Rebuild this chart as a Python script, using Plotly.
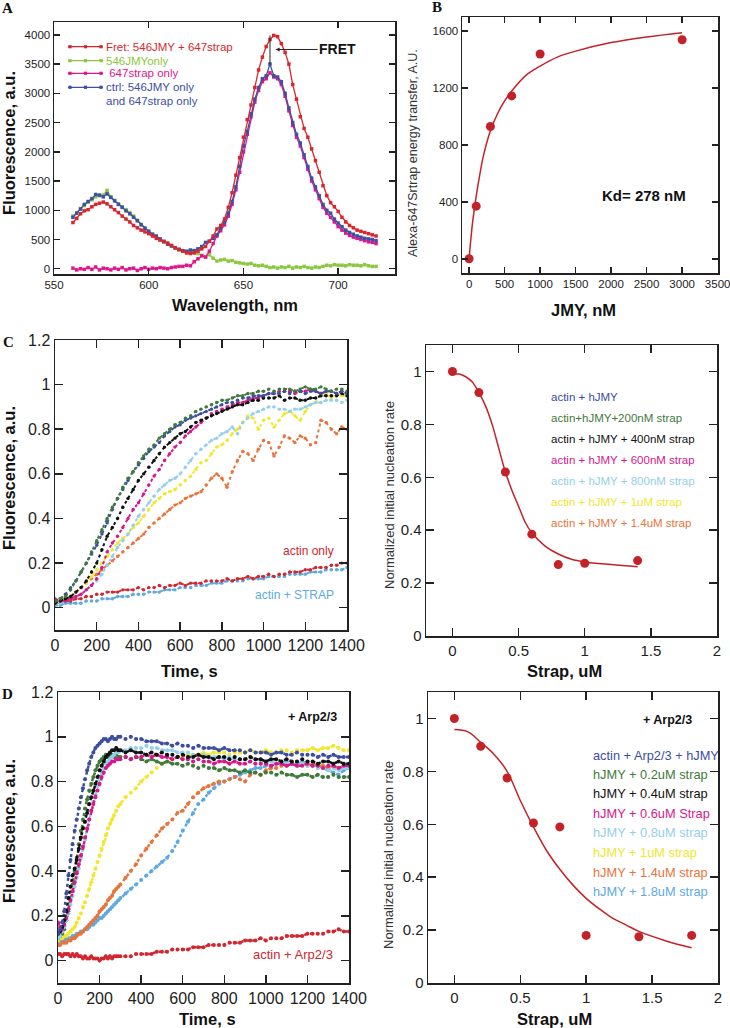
import plotly.graph_objects as go

W, H = 730, 1028
def fx(px): return px / W
def fy(py): return 1 - py / H

SANS = "Liberation Sans, Arial, sans-serif"
SERIF = "Liberation Serif, Times New Roman, serif"

# ---------------- Panel A: emission spectra ----------------
wavelength = list(range(560, 721, 2))
fret_546jmy_647strap = [
    790, 860, 940, 990, 1010, 1060, 1100, 1120, 1140, 1110,
    1060, 1010, 960, 900, 850, 800, 740, 700, 660, 630,
    600, 560, 520, 490, 460, 440, 400, 360, 330, 300,
    270, 260, 270, 300, 340, 380, 470, 560, 680, 740,
    850, 1050, 1300, 1600, 1900, 2250, 2550, 2800, 3100, 3400,
    3620, 3800, 3920, 3990, 3970, 3850, 3700, 3500, 3150, 2900,
    2600, 2400, 2250, 2050, 1850, 1650, 1420, 1250, 1130, 1060,
    980, 880, 800, 740, 700, 660, 640, 620, 600, 580,
    560]
jmy546_only = [
    900, 960, 1030, 1080, 1140, 1180, 1230, 1250, 1260, 1340,
    1230, 1170, 1110, 1060, 1010, 960, 900, 830, 760, 700,
    640, 590, 550, 500, 460, 420, 390, 350, 320, 300,
    290, 270, 280, 260, 230, 200, 240, 180, 130, 150,
    160, 130, 140, 110, 100, 90, 80, 90, 60, 50,
    60, 40, 20, 30, 10, 30, 20, 40, 10, 30,
    20, 40, 20, 10, 30, 20, 40, 60, 50, 70,
    60, 60, 50, 70, 60, 60, 50, 70, 50, 40,
    40]
strap647_only = [
    10, -20, 0, -10, 20, -10, 30, -20, 10, 0,
    -20, 10, -10, 20, -20, 0, 10, -30, 0, 20,
    -10, 10, 0, 20, 10, 0, 20, 30, 40, 40,
    60, 50, 120, 170, 220, 200, 300, 430, 560, 650,
    750, 900, 1100, 1350, 1650, 2000, 2300, 2600, 2850, 3050,
    3200, 3250, 3350, 3280, 3250, 3150, 2950, 2700, 2450, 2250,
    2100, 1900, 1700, 1500, 1350, 1200, 1050, 950, 880, 800,
    720, 660, 610, 570, 540, 520, 500, 480, 460, 450,
    430]
ctrl_sum = [
    880, 950, 1020, 1100, 1150, 1200, 1270, 1260, 1230, 1280,
    1220, 1160, 1100, 1050, 990, 940, 880, 820, 750, 690,
    640, 590, 560, 510, 470, 420, 390, 360, 330, 310,
    300, 320, 310, 340, 380, 450, 470, 520, 580, 700,
    800, 950, 1150, 1400, 1750, 2100, 2350, 2650, 2900, 3100,
    3250, 3300, 3500, 3300, 3280, 3200, 3000, 2750, 2500, 2300,
    2150, 1950, 1750, 1550, 1400, 1250, 1100, 1000, 950, 850,
    780, 720, 660, 620, 590, 560, 540, 520, 510, 500,
    480]
legend_a = ["Fret: 546JMY + 647strap", "546JMYonly", "\u00a0647strap only",
            "ctrl: 546JMY only", "and 647strap only"]

# ---------------- Panel B: binding ----------------
jmy_nM = [0, 100, 300, 600, 1000, 3000]
energy_transfer = [0, 370, 930, 1145, 1440, 1540]
fitB_x = [0, 25, 50, 100, 150, 200, 300, 400, 500, 600, 800, 1000, 1250, 1500, 2000, 2500, 3000]
fitB_y = [0, 140, 260, 440, 590, 720, 900, 1020, 1110, 1180, 1290, 1355, 1420, 1460, 1520, 1560, 1590]

# ---------------- Panel C: kinetics (no Arp2/3) ----------------
time_c = list(range(0, 1401, 25))
c_hjmy = [0.03, 0.04, 0.06, 0.09, 0.12, 0.16, 0.20, 0.24, 0.28, 0.33,
          0.38, 0.44, 0.49, 0.53, 0.57, 0.61, 0.64, 0.67, 0.70, 0.72,
          0.74, 0.77, 0.79, 0.81, 0.82, 0.84, 0.85, 0.86, 0.87, 0.88,
          0.89, 0.90, 0.91, 0.92, 0.92, 0.93, 0.94, 0.94, 0.95, 0.95,
          0.95, 0.96, 0.96, 0.96, 0.97, 0.96, 0.97, 0.97, 0.96, 0.97,
          0.97, 0.96, 0.97, 0.97, 0.96, 0.97, 0.96]
c_200nM = [0.03, 0.04, 0.05, 0.08, 0.12, 0.16, 0.20, 0.25, 0.30, 0.35,
           0.40, 0.45, 0.49, 0.54, 0.58, 0.61, 0.65, 0.68, 0.71, 0.73,
           0.76, 0.78, 0.80, 0.82, 0.83, 0.85, 0.86, 0.88, 0.89, 0.90,
           0.91, 0.92, 0.93, 0.93, 0.94, 0.95, 0.95, 0.96, 0.96, 0.97,
           0.97, 0.98, 0.97, 0.98, 0.98, 0.98, 0.97, 0.98, 0.99, 0.98,
           0.98, 0.99, 0.98, 0.97, 0.98, 0.98, 0.97]
c_400nM = [0.02, 0.03, 0.04, 0.05, 0.07, 0.09, 0.12, 0.16, 0.20, 0.26,
           0.32, 0.36, 0.40, 0.45, 0.49, 0.53, 0.57, 0.60, 0.63, 0.66,
           0.69, 0.72, 0.74, 0.76, 0.78, 0.79, 0.81, 0.83, 0.84, 0.85,
           0.86, 0.87, 0.88, 0.89, 0.90, 0.91, 0.91, 0.92, 0.93, 0.93,
           0.94, 0.94, 0.94, 0.95, 0.93, 0.94, 0.94, 0.93, 0.93, 0.94,
           0.94, 0.95, 0.95, 0.95, 0.95, 0.96, 0.95]
c_600nM = [0.04, 0.03, 0.03, 0.04, 0.05, 0.06, 0.08, 0.10, 0.13, 0.18,
           0.25, 0.29, 0.32, 0.36, 0.40, 0.44, 0.47, 0.51, 0.55, 0.59,
           0.62, 0.66, 0.69, 0.72, 0.74, 0.77, 0.79, 0.81, 0.83, 0.85,
           0.87, 0.88, 0.89, 0.90, 0.91, 0.92, 0.92, 0.93, 0.94, 0.94,
           0.95, 0.96, 0.96, 0.97, 0.97, 0.97, 0.96, 0.97, 0.97, 0.98,
           0.97, 0.96, 0.97, 0.97, 0.96, 0.97, 0.96]
c_800nM = [0.02, 0.02, 0.03, 0.04, 0.05, 0.06, 0.08, 0.10, 0.12, 0.15,
           0.19, 0.23, 0.27, 0.30, 0.33, 0.37, 0.41, 0.44, 0.47, 0.50,
           0.53, 0.55, 0.57, 0.58, 0.60, 0.63, 0.66, 0.69, 0.71, 0.73,
           0.75, 0.76, 0.78, 0.79, 0.81, 0.78, 0.83, 0.85, 0.87, 0.88,
           0.89, 0.90, 0.90, 0.89, 0.89, 0.88, 0.89, 0.89, 0.90, 0.91,
           0.92, 0.92, 0.93, 0.93, 0.93, 0.92, 0.93]
c_1uM = [0.02, 0.03, 0.04, 0.05, 0.07, 0.09, 0.11, 0.14, 0.17, 0.20,
         0.23, 0.26, 0.29, 0.31, 0.33, 0.36, 0.38, 0.41, 0.44, 0.47,
         0.49, 0.51, 0.52, 0.53, 0.55, 0.57, 0.59, 0.62, 0.65, 0.66,
         0.69, 0.72, 0.73, 0.75, 0.78, 0.80, 0.83, 0.86, 0.85, 0.80,
         0.84, 0.85, 0.81, 0.84, 0.87, 0.88, 0.86, 0.84, 0.88, 0.91,
         0.92, 0.96, 0.96, 0.94, 0.96, 0.95, 0.95]
c_1p4uM = [0.03, 0.03, 0.04, 0.05, 0.07, 0.09, 0.11, 0.13, 0.15, 0.17,
           0.19, 0.21, 0.23, 0.25, 0.27, 0.29, 0.31, 0.33, 0.36, 0.38,
           0.40, 0.42, 0.44, 0.46, 0.47, 0.49, 0.50, 0.51, 0.52, 0.55,
           0.58, 0.60, 0.58, 0.54, 0.61, 0.66, 0.70, 0.69, 0.66, 0.71,
           0.75, 0.74, 0.68, 0.72, 0.77, 0.76, 0.74, 0.77, 0.76, 0.73,
           0.74, 0.84, 0.83, 0.80, 0.78, 0.81, 0.80]
c_actin_only = [0.02, 0.02, 0.03, 0.03, 0.04, 0.04, 0.05, 0.05, 0.06, 0.06,
                0.07, 0.07, 0.07, 0.08, 0.08, 0.08, 0.09, 0.08, 0.09, 0.09,
                0.10, 0.09, 0.10, 0.10, 0.11, 0.10, 0.11, 0.11, 0.11, 0.12,
                0.12, 0.12, 0.12, 0.13, 0.12, 0.13, 0.13, 0.14, 0.13, 0.14,
                0.14, 0.15, 0.14, 0.15, 0.15, 0.16, 0.16, 0.16, 0.17, 0.17,
                0.18, 0.18, 0.18, 0.19, 0.19, 0.20, 0.20]
c_actin_strap = [0.01, 0.01, 0.02, 0.02, 0.02, 0.02, 0.03, 0.03, 0.03, 0.04,
                 0.04, 0.04, 0.05, 0.05, 0.05, 0.06, 0.06, 0.06, 0.07, 0.07,
                 0.07, 0.08, 0.08, 0.08, 0.09, 0.09, 0.09, 0.10, 0.10, 0.10,
                 0.11, 0.11, 0.11, 0.12, 0.12, 0.12, 0.12, 0.13, 0.13, 0.13,
                 0.13, 0.14, 0.14, 0.14, 0.14, 0.15, 0.15, 0.15, 0.15, 0.16,
                 0.16, 0.16, 0.17, 0.17, 0.17, 0.17, 0.18]
c_labels = ["actin + hJMY", "actin+hJMY+200nM strap", "actin + hJMY + 400nM strap",
            "actin + hJMY + 600nM strap", "actin + hJMY + 800nM strap",
            "actin + hJMY + 1uM strap", "actin + hJMY + 1.4uM strap"]

strap_c = [0, 0.2, 0.4, 0.6, 0.8, 1.0, 1.4]
rate_c = [1.0, 0.92, 0.62, 0.385, 0.27, 0.275, 0.285]
fitC_x = [0, 0.05, 0.1, 0.15, 0.2, 0.25, 0.3, 0.35, 0.4, 0.45, 0.5, 0.55, 0.6, 0.7, 0.8, 0.9, 1.0, 1.2, 1.4]
fitC_y = [0.99, 0.99, 0.98, 0.96, 0.92, 0.87, 0.80, 0.71, 0.62, 0.55, 0.49, 0.43, 0.39, 0.34, 0.31, 0.29, 0.28, 0.27, 0.262]

# ---------------- Panel D: kinetics (+ Arp2/3) ----------------
time_d = list(range(0, 300, 10)) + list(range(300, 1401, 25))
d_hjmy = [0.12, 0.14, 0.17, 0.22, 0.30, 0.38, 0.45, 0.52, 0.58, 0.63,
          0.68, 0.73, 0.77, 0.81, 0.85, 0.88, 0.91, 0.93, 0.95, 0.96,
          0.97, 0.98, 0.99, 0.99, 0.98, 0.99, 1.00, 0.99, 0.99, 1.00] + [
          1.00, 0.99, 1.00, 0.99, 0.99, 0.98, 0.98, 0.98, 0.97, 0.97,
          0.96, 0.97, 0.96, 0.96, 0.95, 0.96, 0.95, 0.95, 0.95, 0.94,
          0.95, 0.94, 0.94, 0.94, 0.93, 0.94, 0.93, 0.93, 0.93, 0.92,
          0.93, 0.93, 0.92, 0.92, 0.93, 0.92, 0.92, 0.92, 0.91, 0.92,
          0.91, 0.92, 0.91, 0.91, 0.91]
d_0p2uM = [0.10, 0.11, 0.12, 0.14, 0.18, 0.22, 0.28, 0.34, 0.40, 0.46,
           0.52, 0.58, 0.63, 0.68, 0.72, 0.76, 0.79, 0.82, 0.85, 0.87,
           0.89, 0.90, 0.91, 0.92, 0.91, 0.92, 0.92, 0.91, 0.92, 0.91] + [
           0.91, 0.91, 0.90, 0.91, 0.90, 0.89, 0.90, 0.89, 0.88, 0.89,
           0.88, 0.88, 0.87, 0.88, 0.87, 0.86, 0.87, 0.86, 0.86, 0.85,
           0.86, 0.85, 0.85, 0.84, 0.85, 0.84, 0.84, 0.83, 0.84, 0.84,
           0.83, 0.84, 0.83, 0.83, 0.82, 0.83, 0.83, 0.82, 0.83, 0.82,
           0.82, 0.83, 0.82, 0.82, 0.82]
d_0p4uM = [0.12, 0.13, 0.15, 0.18, 0.22, 0.28, 0.33, 0.38, 0.41, 0.45,
           0.50, 0.55, 0.59, 0.62, 0.66, 0.70, 0.73, 0.76, 0.79, 0.82,
           0.85, 0.87, 0.89, 0.91, 0.92, 0.93, 0.94, 0.94, 0.95, 0.94] + [
           0.94, 0.93, 0.94, 0.93, 0.93, 0.92, 0.93, 0.92, 0.93, 0.92,
           0.92, 0.91, 0.92, 0.91, 0.91, 0.92, 0.91, 0.91, 0.90, 0.91,
           0.91, 0.90, 0.91, 0.90, 0.90, 0.91, 0.90, 0.90, 0.89, 0.90,
           0.90, 0.89, 0.90, 0.89, 0.89, 0.90, 0.89, 0.89, 0.88, 0.89,
           0.89, 0.88, 0.89, 0.88, 0.88]
d_0p6uM = [0.17, 0.15, 0.14, 0.16, 0.19, 0.23, 0.27, 0.31, 0.35, 0.39,
           0.43, 0.47, 0.51, 0.55, 0.59, 0.63, 0.67, 0.70, 0.73, 0.76,
           0.79, 0.82, 0.84, 0.86, 0.87, 0.88, 0.89, 0.89, 0.90, 0.90] + [
           0.90, 0.91, 0.90, 0.91, 0.91, 0.92, 0.91, 0.92, 0.91, 0.91,
           0.90, 0.91, 0.90, 0.90, 0.89, 0.90, 0.89, 0.89, 0.88, 0.89,
           0.89, 0.88, 0.89, 0.88, 0.88, 0.89, 0.88, 0.88, 0.88, 0.87,
           0.88, 0.88, 0.87, 0.88, 0.87, 0.87, 0.88, 0.87, 0.87, 0.86,
           0.87, 0.87, 0.86, 0.87, 0.87]
d_0p8uM = [0.10, 0.11, 0.13, 0.15, 0.18, 0.21, 0.25, 0.29, 0.33, 0.37,
           0.41, 0.46, 0.50, 0.54, 0.59, 0.63, 0.67, 0.71, 0.74, 0.78,
           0.81, 0.84, 0.86, 0.88, 0.89, 0.90, 0.91, 0.92, 0.93, 0.93] + [
           0.94, 0.94, 0.95, 0.95, 0.95, 0.96, 0.95, 0.95, 0.94, 0.94,
           0.94, 0.93, 0.93, 0.93, 0.92, 0.92, 0.92, 0.91, 0.91, 0.91,
           0.90, 0.91, 0.90, 0.90, 0.90, 0.89, 0.90, 0.89, 0.89, 0.89,
           0.88, 0.89, 0.88, 0.88, 0.87, 0.88, 0.87, 0.87, 0.86, 0.86,
           0.85, 0.86, 0.85, 0.86, 0.86]
d_1uM = [0.09, 0.10, 0.10, 0.11, 0.11, 0.12, 0.13, 0.14, 0.15, 0.17,
         0.19, 0.21, 0.24, 0.26, 0.29, 0.32, 0.35, 0.38, 0.41, 0.44,
         0.47, 0.50, 0.53, 0.56, 0.59, 0.61, 0.63, 0.65, 0.67, 0.69] + [
         0.70, 0.73, 0.75, 0.77, 0.80, 0.82, 0.84, 0.86, 0.88, 0.89,
         0.90, 0.91, 0.91, 0.92, 0.92, 0.92, 0.93, 0.92, 0.93, 0.93,
         0.93, 0.92, 0.93, 0.93, 0.93, 0.94, 0.93, 0.93, 0.94, 0.93,
         0.93, 0.94, 0.94, 0.93, 0.94, 0.94, 0.94, 0.95, 0.94, 0.95,
         0.95, 0.96, 0.95, 0.94, 0.94]
d_1p4uM = [0.07, 0.07, 0.08, 0.08, 0.08, 0.09, 0.09, 0.10, 0.10, 0.11,
           0.12, 0.12, 0.13, 0.14, 0.15, 0.16, 0.17, 0.18, 0.19, 0.20,
           0.22, 0.23, 0.24, 0.25, 0.27, 0.28, 0.29, 0.31, 0.32, 0.33] + [
           0.34, 0.37, 0.40, 0.43, 0.47, 0.50, 0.53, 0.56, 0.59, 0.61,
           0.63, 0.66, 0.67, 0.70, 0.73, 0.75, 0.77, 0.78, 0.79, 0.80,
           0.80, 0.81, 0.82, 0.81, 0.80, 0.83, 0.84, 0.83, 0.85, 0.86,
           0.86, 0.87, 0.87, 0.88, 0.87, 0.88, 0.87, 0.88, 0.87, 0.87,
           0.86, 0.87, 0.86, 0.87, 0.87]
d_1p8uM = [0.08, 0.09, 0.09, 0.09, 0.10, 0.10, 0.10, 0.11, 0.11, 0.12,
           0.12, 0.13, 0.13, 0.14, 0.14, 0.15, 0.16, 0.16, 0.17, 0.18,
           0.19, 0.19, 0.20, 0.21, 0.22, 0.23, 0.24, 0.25, 0.26, 0.27] + [
           0.28, 0.30, 0.32, 0.34, 0.36, 0.38, 0.40, 0.42, 0.44, 0.46,
           0.49, 0.53, 0.58, 0.62, 0.66, 0.70, 0.72, 0.75, 0.77, 0.79,
           0.80, 0.81, 0.82, 0.83, 0.84, 0.85, 0.86, 0.86, 0.87, 0.87,
           0.88, 0.88, 0.89, 0.88, 0.88, 0.89, 0.88, 0.87, 0.87, 0.86,
           0.85, 0.84, 0.83, 0.85, 0.86]
d_actin_arp = [0.03, 0.03, 0.02, 0.03, 0.03, 0.03, 0.02, 0.03, 0.02, 0.03,
               0.02, 0.02, 0.01, 0.02, 0.01, 0.01, 0.02, 0.01, 0.01, 0.01,
               0.00, 0.01, 0.01, 0.02, 0.01, 0.02, 0.01, 0.02, 0.02, 0.02] + [
               0.02, 0.02, 0.02, 0.03, 0.03, 0.03, 0.03, 0.04, 0.04, 0.04,
               0.05, 0.05, 0.05, 0.05, 0.06, 0.06, 0.06, 0.07, 0.07, 0.07,
               0.07, 0.08, 0.08, 0.08, 0.09, 0.09, 0.09, 0.10, 0.09, 0.10,
               0.10, 0.10, 0.11, 0.11, 0.11, 0.11, 0.12, 0.12, 0.12, 0.12,
               0.13, 0.13, 0.14, 0.13, 0.13]
d_labels = ["actin + Arp2/3 + hJMY", "hJMY + 0.2uM strap", "hJMY + 0.4uM strap",
            "hJMY + 0.6uM Strap", "hJMY + 0.8uM strap", "hJMY + 1uM strap",
            "hJMY + 1.4uM strap", "hJMY + 1.8uM strap"]

strap_d = [0, 0.2, 0.4, 0.6, 0.8, 1.0, 1.4, 1.8]
rate_d = [1.0, 0.895, 0.775, 0.605, 0.59, 0.18, 0.175, 0.18]
fitD_x = [0, 0.1, 0.2, 0.3, 0.4, 0.5, 0.6, 0.7, 0.8, 0.9, 1.0, 1.1, 1.2, 1.3, 1.4, 1.6, 1.8]
fitD_y = [0.958, 0.95, 0.91, 0.865, 0.80, 0.69, 0.59, 0.50, 0.43, 0.37, 0.32, 0.28, 0.245, 0.22, 0.195, 0.16, 0.133]

# ---------------- colours ----------------
A_RED, A_GREEN, A_MAG, A_BLUE = "#d8262e", "#8dc641", "#e0168c", "#3d50a2"
K_BLUE, K_GREEN, K_BLACK, K_MAG = "#3b4ea0", "#3f7a3b", "#111111", "#d6188c"
K_SKY, K_YEL, K_ORA, K_RED, K_LTB = "#93d0ea", "#f2e630", "#e8743b", "#d22630", "#5eaadf"
FIT = "#c42229"

fig = go.Figure()

# Panel A traces
for ys, col in [(jmy546_only, A_GREEN), (strap647_only, A_MAG), (ctrl_sum, A_BLUE), (fret_546jmy_647strap, A_RED)]:
    fig.add_trace(go.Scatter(x=wavelength, y=ys, mode="lines+markers", xaxis="x", yaxis="y",
                             line=dict(color=col, width=1.3),
                             marker=dict(symbol="square", size=3.5, color=col), showlegend=False))

# Panel B
fig.add_trace(go.Scatter(x=fitB_x, y=fitB_y, mode="lines", line=dict(color=FIT, width=1.5, shape="spline"),
                         xaxis="x2", yaxis="y2", showlegend=False))
fig.add_trace(go.Scatter(x=jmy_nM, y=energy_transfer, mode="markers", marker=dict(color=FIT, size=9),
                         xaxis="x2", yaxis="y2", showlegend=False))

# Panel C kinetics
for ys, col in [(c_actin_strap, K_LTB), (c_actin_only, K_RED), (c_1p4uM, K_ORA), (c_1uM, K_YEL),
                (c_800nM, K_SKY), (c_600nM, K_MAG), (c_400nM, K_BLACK), (c_hjmy, K_BLUE), (c_200nM, K_GREEN)]:
    fig.add_trace(go.Scatter(x=time_c[:len(ys)], y=ys, mode="lines+markers", xaxis="x3", yaxis="y3",
                             line=dict(color=col, width=2, dash="dot"),
                             marker=dict(color=col, size=3.4), showlegend=False))

fig.add_trace(go.Scatter(x=fitC_x, y=fitC_y, mode="lines", line=dict(color=FIT, width=1.5, shape="spline"),
                         xaxis="x4", yaxis="y4", showlegend=False))
fig.add_trace(go.Scatter(x=strap_c, y=rate_c, mode="markers", marker=dict(color=FIT, size=9),
                         xaxis="x4", yaxis="y4", showlegend=False))

# Panel D kinetics
for ys, col in [(d_actin_arp, K_RED), (d_1p8uM, K_LTB), (d_1p4uM, K_ORA), (d_1uM, K_YEL), (d_0p2uM, K_GREEN),
                (d_0p8uM, K_SKY), (d_0p6uM, K_MAG), (d_0p4uM, K_BLACK), (d_hjmy, K_BLUE)]:
    fig.add_trace(go.Scatter(x=time_d[:len(ys)], y=ys, mode="lines+markers", xaxis="x5", yaxis="y5",
                             line=dict(color=col, width=2.5, dash="dot"),
                             marker=dict(color=col, size=4), showlegend=False))

fig.add_trace(go.Scatter(x=fitD_x, y=fitD_y, mode="lines", line=dict(color=FIT, width=1.5, shape="spline"),
                         xaxis="x6", yaxis="y6", showlegend=False))
fig.add_trace(go.Scatter(x=strap_d, y=rate_d, mode="markers", marker=dict(color=FIT, size=9),
                         xaxis="x6", yaxis="y6", showlegend=False))

# ---------------- axes ----------------
def ax(domain, rng, tickvals, size, ticklen, anchor):
    return dict(domain=domain, range=rng, tickvals=tickvals, anchor=anchor, automargin=False,
                showline=True, linecolor="#222", linewidth=1.5, mirror="ticks",
                ticks="inside", ticklen=ticklen, tickwidth=1.5, tickcolor="#222",
                showgrid=False, zeroline=False, ticklabeloverflow="allow",
                tickfont=dict(family=SANS, size=size, color="#222"))

lay = dict(
    width=W, height=H, margin=dict(l=0, r=0, t=0, b=0, pad=0, autoexpand=False),
    paper_bgcolor="white", plot_bgcolor="white", showlegend=False,
    xaxis=ax([fx(54), fx(395)], [550, 730], [550, 600, 650, 700], 11.5, 6, "y"),
    yaxis=ax([fy(274), fy(22)], [-90, 4220], list(range(0, 4001, 500)), 11.5, 6, "x"),
    xaxis2=ax([fx(462), fx(718)], [-100, 3505], list(range(0, 3501, 500)), 11.5, 6, "y2"),
    yaxis2=ax([fy(273), fy(17)], [-100, 1700], [0, 400, 800, 1200, 1600], 11.5, 6, "x2"),
    xaxis3=ax([fx(55), fx(347)], [0, 1400], list(range(0, 1401, 200)), 16, 8, "y3"),
    yaxis3=ax([fy(630), fy(340)], [-0.1, 1.2], [0, 0.2, 0.4, 0.6, 0.8, 1, 1.2], 16, 8, "x3"),
    xaxis4=ax([fx(426), fx(717)], [-0.2, 2], [0, 0.5, 1, 1.5, 2], 15, 8, "y4"),
    yaxis4=ax([fy(636), fy(345)], [0, 1.1], [0, 0.2, 0.4, 0.6, 0.8, 1], 15, 8, "x4"),
    xaxis5=ax([fx(58), fx(349)], [0, 1400], list(range(0, 1401, 200)), 16, 8, "y5"),
    yaxis5=ax([fy(983), fy(692)], [-0.1, 1.2], [0, 0.2, 0.4, 0.6, 0.8, 1, 1.2], 16, 8, "x5"),
    xaxis6=ax([fx(428), fx(718)], [-0.2, 2], [0, 0.5, 1, 1.5, 2], 15, 8, "y6"),
    yaxis6=ax([fy(983), fy(692)], [0, 1.1], [0, 0.2, 0.4, 0.6, 0.8, 1], 15, 8, "x6"),
)
fig.update_layout(**lay)

ann = []
def txt(text, x, y, size, color="#222", bold=False, family=SANS, angle=0, xanchor="center"):
    ann.append(dict(text=("<b>%s</b>" % text) if bold else text, x=fx(x), y=fy(y),
                    xref="paper", yref="paper", showarrow=False, xanchor=xanchor, yanchor="middle",
                    textangle=angle, font=dict(family=family, size=size, color=color)))

# panel letters
txt("A", 7.5, 8, 15, "#111", True, SERIF)
txt("B", 437, 7, 15, "#111", True, SERIF)
txt("C", 8, 342, 15, "#111", True, SERIF)
txt("D", 7.5, 694, 15, "#111", True, SERIF)

# axis titles
txt("Wavelength, nm", 235, 305, 16.5, "#111", True)
txt("Fluorescence, a.u.", 9, 143, 16.5, "#111", True, angle=-90)
txt("JMY, nM", 583, 310, 16.5, "#111", True)
txt("Alexa-647Srtrap energy transfer, A.U.", 413, 153, 12.5, "#333", angle=-90)
txt("Time, s", 189, 671, 16.5, "#111", True)
txt("Fluorescence, a.u.", 9, 478, 16.5, "#111", True, angle=-90)
txt("Strap, uM", 564, 671, 16.5, "#111", True)
txt("Normalized initial nucleation rate", 389, 495, 13, "#333", angle=-90)
txt("Time, s", 207, 1019, 16.5, "#111", True)
txt("Fluorescence, a.u.", 9, 831, 16.5, "#111", True, angle=-90)
txt("Strap, uM", 554, 1019, 16.5, "#111", True)
txt("Normalized initial nucleation rate", 388, 855, 13, "#333", angle=-90)

# in-plot texts
txt("Kd= 278 nM", 644, 195, 15, "#111", True)
txt("actin only", 308, 551, 12, K_RED)
txt("actin + STRAP", 294, 594.5, 12, K_LTB)
txt("actin + Arp2/3", 293, 954, 13, K_RED)
txt("+ Arp2/3", 312, 717, 12.5, "#111", True)
txt("+ Arp2/3", 667, 719.5, 12.5, "#111", True)

for lab, col, yy in zip(c_labels, [K_BLUE, K_GREEN, K_BLACK, K_MAG, K_SKY, K_YEL, K_ORA],
                        [396.7, 417.7, 438.7, 460, 481, 502.3, 523.3]):
    txt(lab, 549, yy, 11.5, col, xanchor="left")
for lab, col, yy in zip(d_labels, [K_BLUE, K_GREEN, K_BLACK, K_MAG, K_SKY, K_YEL, K_ORA, K_LTB],
                        [755, 774.3, 793.7, 813.3, 832.7, 852.3, 872, 891]):
    txt(lab, 591, yy, 12.8, col, xanchor="left")

# Panel A legend (line + square markers, coloured labels)
shapes = []
leg_cols = [A_RED, A_GREEN, A_MAG, A_BLUE]
leg_y = [46.7, 60.7, 73.3, 87.3]
for col, yy in zip(leg_cols, leg_y):
    shapes.append(dict(type="line", xref="paper", yref="paper", x0=fx(68), x1=fx(103), y0=fy(yy), y1=fy(yy),
                       line=dict(color=col, width=1.3)))
    for mx in (70, 85.5, 101):
        shapes.append(dict(type="rect", xref="paper", yref="paper", x0=fx(mx - 1.6), x1=fx(mx + 1.6),
                           y0=fy(yy + 1.6), y1=fy(yy - 1.6), fillcolor=col, line=dict(width=0)))
for lab, col, yy in zip(legend_a, [A_RED, A_GREEN, A_MAG, A_BLUE, A_BLUE], leg_y + [100.7]):
    txt(lab, 104, yy, 11.5, col, xanchor="left")

# FRET marker: vertical line between control and FRET peaks, arrow + label
i_peak = ctrl_sum.index(max(ctrl_sum))
shapes.append(dict(type="line", xref="x", yref="y", x0=wavelength[i_peak], x1=wavelength[i_peak],
                   y0=max(ctrl_sum), y1=max(fret_546jmy_647strap), line=dict(color="#222", width=1)))
ann.append(dict(text="<b>FRET</b>", x=wavelength[i_peak] + 3, y=3750, xref="x", yref="y",
                ax=62, ay=0, showarrow=True, arrowhead=2, arrowsize=0.8, arrowwidth=1, arrowcolor="#222",
                font=dict(family=SANS, size=14, color="#111")))

fig.update_layout(annotations=ann, shapes=shapes)
fig.write_html("out.html", config={"displayModeBar": False, "staticPlot": True},
               post_script="document.body.style.margin='0px';document.body.style.overflow='hidden';")
